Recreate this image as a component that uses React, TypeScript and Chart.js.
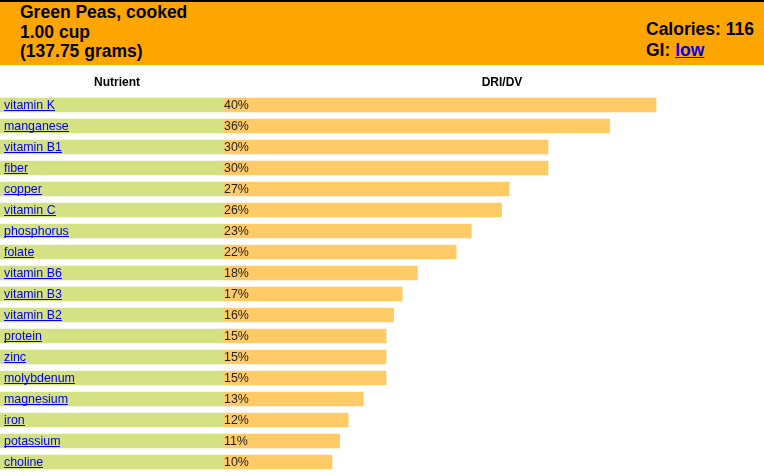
import React, { useEffect, useRef } from "react";
import { Chart, registerables } from "chart.js";

Chart.register(...registerables);

const nutrients = [
  "vitamin K",
  "manganese",
  "vitamin B1",
  "fiber",
  "copper",
  "vitamin C",
  "phosphorus",
  "folate",
  "vitamin B6",
  "vitamin B3",
  "vitamin B2",
  "protein",
  "zinc",
  "molybdenum",
  "magnesium",
  "iron",
  "potassium",
  "choline",
];

const dvLabels = [
  "40%", "36%", "30%", "30%", "27%", "26%", "23%", "22%", "18%",
  "17%", "16%", "15%", "15%", "15%", "13%", "12%", "11%", "10%",
];

const dvValues = [
  40, 35.7, 30, 30, 26.4, 25.7, 22.9, 21.5, 17.9,
  16.5, 15.7, 15, 15, 15, 12.9, 11.5, 10.7, 10,
];

const AXIS_MIN = -20.74;
const AXIS_MAX = 50;

const FONT = "'Liberation Sans', Arial, Helvetica, sans-serif";

export default function App() {
  const ref = useRef<HTMLCanvasElement | null>(null);

  useEffect(() => {
    document.body.style.margin = "0";
    const canvas = ref.current;
    if (!canvas) return;

    const tablePlugin = {
      id: "tableText",
      afterDatasetsDraw(chart: any) {
        const ctx = chart.ctx as CanvasRenderingContext2D;
        const meta = chart.getDatasetMeta(1);
        const x0 = chart.scales.x.getPixelForValue(0);
        ctx.save();
        ctx.font = `bold 12px ${FONT}`;
        ctx.fillStyle = "#000";
        ctx.textAlign = "center";
        ctx.textBaseline = "middle";
        ctx.fillText("Nutrient", 117, 18);
        ctx.fillText("DRI/DV", 502, 18);
        ctx.font = `12.4px ${FONT}`;
        ctx.textAlign = "left";
        ctx.textBaseline = "alphabetic";
        nutrients.forEach((n, i) => {
          const y = meta.data[i].y;
          const base = Math.round(y) + 4;
          ctx.fillStyle = "#0000EE";
          ctx.fillText(n, 4, base);
          const w = ctx.measureText(n).width;
          ctx.fillRect(4, base + 1, Math.round(w), 1);
          ctx.fillStyle = "#222";
          ctx.fillText(dvLabels[i], x0, base);
        });
        ctx.restore();
      },
    };

    const chart = new Chart(canvas, {
      type: "bar",
      data: {
        labels: nutrients,
        datasets: [
          {
            label: "Nutrient",
            data: nutrients.map(() => [AXIS_MIN, 0]) as any,
            backgroundColor: "#D4E283",
            borderWidth: 0,
            barThickness: 14,
            grouped: false,
          } as any,
          {
            label: "DRI/DV",
            data: dvValues,
            backgroundColor: "#FECB66",
            borderWidth: 0,
            barThickness: 14,
            grouped: false,
          } as any,
        ],
      },
      options: {
        indexAxis: "y",
        responsive: false,
        animation: false,
        layout: { padding: { top: 29.5, bottom: 3.5, left: 0, right: 0 } },
        scales: {
          x: { type: "linear", display: false, min: AXIS_MIN, max: AXIS_MAX },
          y: { display: false, offset: true },
        },
        plugins: {
          legend: { display: false },
          tooltip: { enabled: false },
        },
      },
      plugins: [tablePlugin],
    });

    return () => chart.destroy();
  }, []);

  return (
    <div style={{ width: 764, fontFamily: FONT }}>
      <div
        style={{
          position: "relative",
          height: 63,
          background: "#FFA500",
          borderTop: "2px solid #000",
          fontWeight: "bold",
          fontSize: 17.5,
          color: "#000",
          whiteSpace: "nowrap",
        }}
      >
        <div style={{ position: "absolute", left: 20, top: 1, lineHeight: "19.5px" }}>
          Green Peas, cooked
          <br />
          1.00 cup
          <br />
          (137.75 grams)
        </div>
        <div style={{ position: "absolute", left: 646, top: 17, lineHeight: "21px" }}>
          Calories: 116
          <br />
          GI:{" "}
          <a href="#" style={{ color: "#0000EE" }}>
            low
          </a>
        </div>
      </div>
      <canvas ref={ref} width={764} height={411} style={{ display: "block" }} />
    </div>
  );
}
